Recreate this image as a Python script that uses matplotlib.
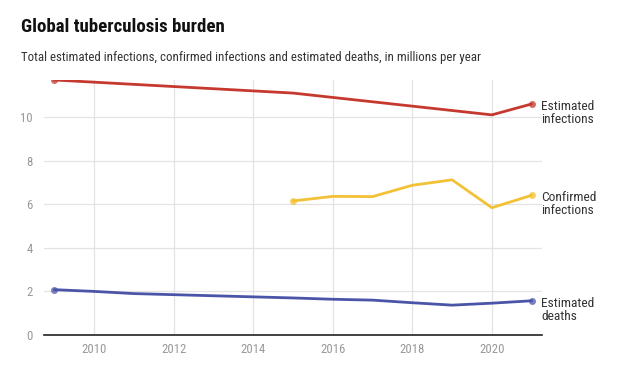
import matplotlib
matplotlib.use("Agg")
import matplotlib.pyplot as plt

years = list(range(2009, 2022))
est_infections = [11.7, 11.6, 11.5, 11.4, 11.3, 11.2, 11.1, 10.9, 10.7, 10.5, 10.3, 10.1, 10.6]
conf_years = list(range(2015, 2022))
conf_infections = [6.15, 6.36, 6.35, 6.87, 7.12, 5.84, 6.41]
est_deaths = [2.08, 2.0, 1.9, 1.85, 1.8, 1.75, 1.7, 1.64, 1.6, 1.48, 1.37, 1.46, 1.57]
xticks = [2010, 2012, 2014, 2016, 2018, 2020]
yticks = [0, 2, 4, 6, 8, 10]
labels = ["Estimated\ninfections", "Confirmed\ninfections", "Estimated\ndeaths"]
colors = ["#c6392f", "#f2c135", "#4b55a8"]

plt.rcParams['font.family'] = ['Roboto Condensed', 'Roboto', 'DejaVu Sans']
fig = plt.figure(figsize=(6.36, 3.67), dpi=100)
W, H = 636, 367
ax = fig.add_axes([44 / W, 1 - 335 / H, (542 - 44) / W, (335 - 80) / H])

series = [(years, est_infections), (conf_years, conf_infections), (years, est_deaths)]
for (xs, ys), c, lab in zip(series, colors, labels):
    ax.plot(xs, ys, color=c, lw=2, solid_capstyle='round', zorder=3)
    ax.plot([xs[0], xs[-1]], [ys[0], ys[-1]], 'o', color=c, ms=5, alpha=0.75,
            markeredgewidth=0, zorder=4)
    ax.annotate(lab, (xs[-1], ys[-1]), xytext=(7, -6.5), textcoords='offset points',
                va='center', ha='left', fontsize=9.6, color='#333333',
                linespacing=1.02, annotation_clip=False)

ax.set_xlim(2008.74, 2021.26)
ax.set_ylim(0, 11.7)
ax.set_xticks(xticks)
ax.set_yticks(yticks)
ax.grid(True, color='#e3e3e3', lw=0.9)
ax.set_axisbelow(True)
for s in ['top', 'right', 'left']:
    ax.spines[s].set_visible(False)
ax.spines['bottom'].set_color('#222222')
ax.spines['bottom'].set_linewidth(1.2)
ax.tick_params(length=0, labelsize=9.2, labelcolor='#999999', pad=6)
ax.tick_params(axis='y', pad=8)

fig.text(21 / W, 1 - 32 / H, "Global tuberculosis burden", fontsize=13.6,
         fontweight='bold', color='#111111', va='baseline', ha='left')
fig.text(21 / W, 1 - 61 / H,
         "Total estimated infections, confirmed infections and estimated deaths, in millions per year",
         fontsize=9.3, color='#333333', va='baseline', ha='left')

fig.savefig("out.png", dpi=100, facecolor='white')
